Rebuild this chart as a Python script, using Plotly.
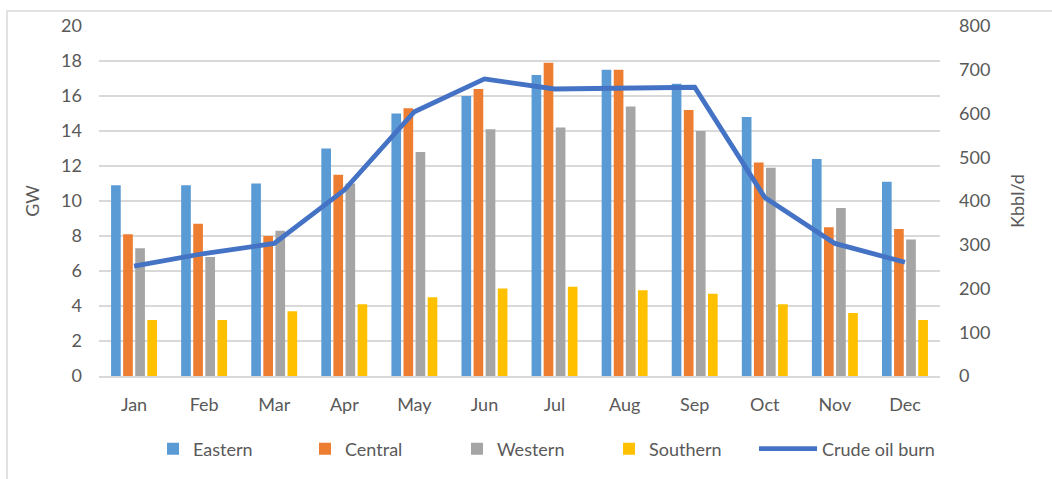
import plotly.graph_objects as go

months = ["Jan", "Feb", "Mar", "Apr", "May", "Jun", "Jul", "Aug", "Sep", "Oct", "Nov", "Dec"]
eastern = [10.9, 10.9, 11.0, 13.0, 15.0, 16.0, 17.2, 17.5, 16.7, 14.8, 12.4, 11.1]
central = [8.1, 8.7, 8.0, 11.5, 15.3, 16.4, 17.9, 17.5, 15.2, 12.2, 8.5, 8.4]
western = [7.3, 6.8, 8.3, 11.0, 12.8, 14.1, 14.2, 15.4, 14.0, 11.9, 9.6, 7.8]
southern = [3.2, 3.2, 3.7, 4.1, 4.5, 5.0, 5.1, 4.9, 4.7, 4.1, 3.6, 3.2]
crude_oil_burn = [251, 280, 303, 425, 604, 679, 656, 658, 660, 408, 303, 260]

font_family = "Lato, Open Sans, sans-serif"
text_color = "#595959"
fs = 18

# plot area in pixels
L, R, T, B = 99, 940, 26, 376
W, H = R - L, B - T
legend_y = (479 - 449) / 479

fig = go.Figure()
for name, vals, color in [
    ("Eastern", eastern, "#5B9BD5"),
    ("Central", central, "#ED7D31"),
    ("Western", western, "#A5A5A5"),
    ("Southern", southern, "#FFC000"),
]:
    fig.add_trace(go.Bar(x=months, y=vals, name=name, legend="legend",
                         marker=dict(color=color, line=dict(width=0))))

fig.add_trace(go.Scatter(x=months, y=crude_oil_burn, name="Crude oil burn", mode="lines",
                         legend="legend2",
                         line=dict(color="#4472C4", width=4.8), yaxis="y2"))

fig.update_layout(
    width=1052, height=479,
    paper_bgcolor="white", plot_bgcolor="white",
    margin=dict(l=L, r=1052 - R, t=T, b=479 - B, autoexpand=False),
    font=dict(family=font_family, size=fs, color=text_color),
    barmode="group", bargap=0.31, bargroupgap=0.2,
    showlegend=True,
    legend=dict(orientation="h", xref="container", yref="container",
                x=153 / 1052, xanchor="left", y=legend_y, yanchor="middle",
                font=dict(size=fs, color=text_color), traceorder="normal",
                entrywidth=107, entrywidthmode="pixels"),
    legend2=dict(orientation="h", xref="container", yref="container",
                 x=754 / 1052, xanchor="left", y=legend_y, yanchor="middle",
                 font=dict(size=fs, color=text_color), itemwidth=58),
    xaxis=dict(showgrid=False, showline=True, linecolor="#d9d9d9", linewidth=1.5,
               ticks="", automargin=False, ticklabelstandoff=12,
               tickfont=dict(size=fs, color=text_color)),
    yaxis=dict(range=[0, 20], dtick=2, showgrid=True, gridcolor="#d9d9d9", gridwidth=1.5,
               zeroline=False, ticks="", automargin=False, ticklabelstandoff=16,
               title=dict(text="GW", font=dict(size=fs), standoff=16),
               tickfont=dict(size=fs, color=text_color)),
    yaxis2=dict(range=[0, 800], dtick=100, overlaying="y", side="right", showgrid=False,
                zeroline=False, ticks="", automargin=False, ticklabelstandoff=18,
                title=dict(text="Kbbl/d", font=dict(size=fs), standoff=22),
                tickfont=dict(size=fs, color=text_color)),
    shapes=[dict(type="rect", xref="paper", yref="paper",
                 x0=(7 - L) / W, x1=(1070 - L) / W, y0=-(495 - B) / H, y1=1 + (T - 11) / H,
                 line=dict(color="#d9d9d9", width=1.5), layer="below")],
)

fig.write_html("out.html", config={"displayModeBar": False},
               post_script="document.body.style.margin='0';document.body.style.overflow='hidden';")
